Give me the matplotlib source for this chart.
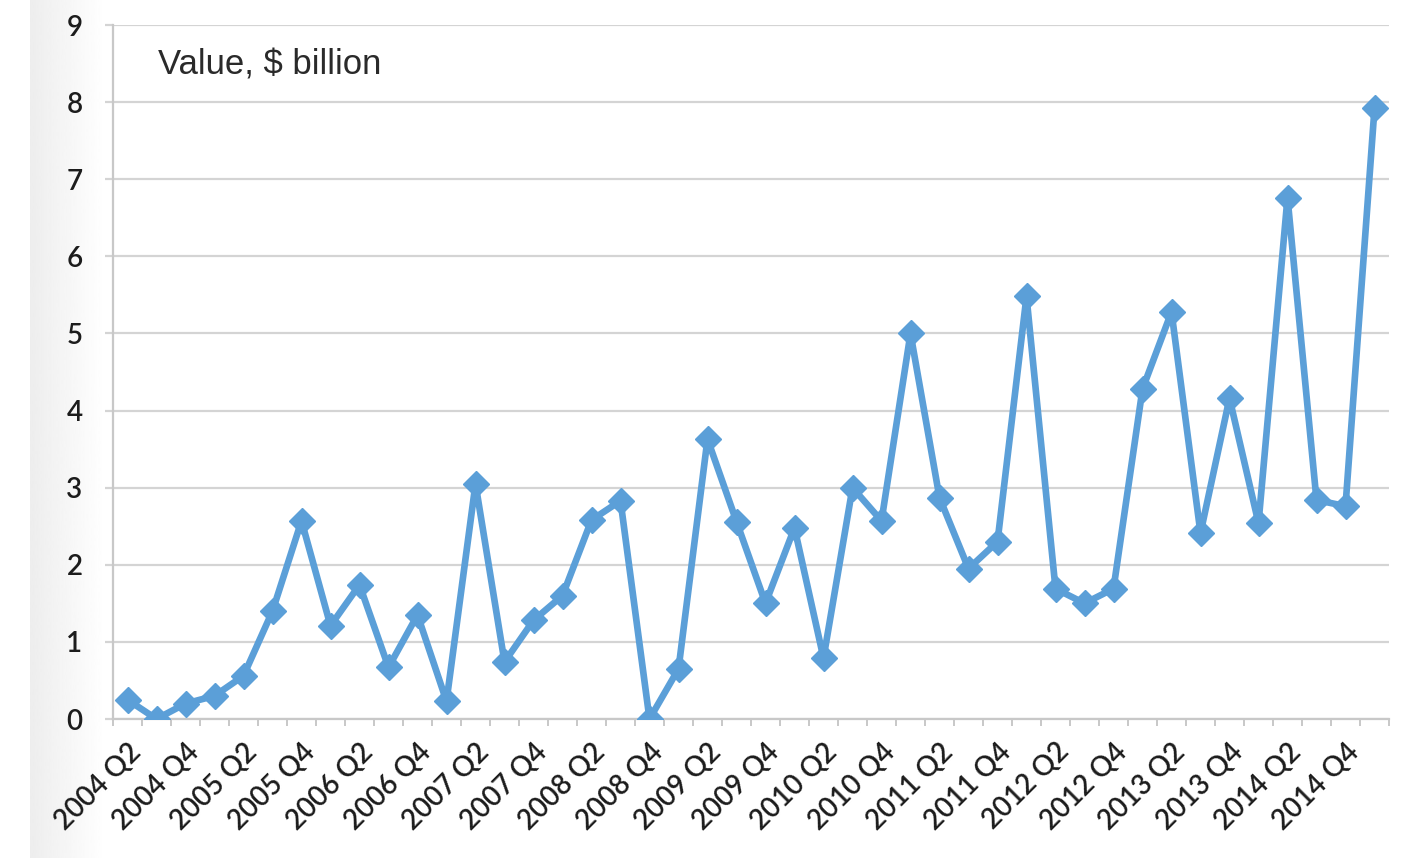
import numpy as np
import matplotlib.pyplot as plt
import matplotlib.transforms as mtransforms

# quarterly values, 2004 Q2 .. 2015 Q1
quarters = []
for yr in range(2004, 2016):
    for q in range(1, 5):
        quarters.append(f"{yr} Q{q}")
quarters = quarters[1:45]

values = [0.25, 0.0, 0.2, 0.3, 0.56, 1.4, 2.57, 1.21, 1.74, 0.67,
          1.35, 0.23, 3.05, 0.74, 1.28, 1.6, 2.58, 2.83, 0.0, 0.65,
          3.63, 2.56, 1.5, 2.48, 0.79, 3.0, 2.57, 5.0, 2.87, 1.95,
          2.3, 5.48, 1.69, 1.5, 1.69, 4.28, 5.28, 2.41, 4.16, 2.54,
          6.76, 2.84, 2.76, 7.92]

blue = '#5b9fd8'
grid = '#d4d4d4'
txt = '#1c1c1c'

fig = plt.figure(figsize=(14.02, 8.58), dpi=100)

# faint grey shading at the left edge of the screenshot
bg = fig.add_axes([30 / 1402, 0, 75 / 1402, 1])
bg.imshow(np.linspace(0.93, 1.0, 100).reshape(1, -1), cmap='gray', vmin=0, vmax=1,
          aspect='auto', extent=[0, 1, 0, 1])
bg.axis('off')

ax = fig.add_axes([113 / 1402, 1 - 719 / 858, (1389 - 113) / 1402, (719 - 25) / 858])
x = np.arange(len(values))
ax.plot(x, values, color=blue, lw=4.8, marker='D', ms=13, zorder=3)

ax.set_xlim(-0.5, len(values) - 0.5)
ax.set_ylim(0, 9)
ax.set_yticks(range(10))
ax.yaxis.grid(True, color=grid, lw=1.6)
ax.set_axisbelow(True)

ax.set_xticks(x[::2])
ax.set_xticklabels(quarters[::2], rotation=45, ha='right', rotation_mode='anchor',
                   fontsize=20, family='Lato', fontweight='semibold', color=txt)
shift = mtransforms.ScaledTranslation(2 / 72, 0, fig.dpi_scale_trans)
for lab in ax.get_xticklabels():
    lab.set_transform(lab.get_transform() + shift)
ax.tick_params(axis='x', which='major', length=0, pad=14)
ax.set_xticks(np.arange(-0.5, len(values)), minor=True)
ax.tick_params(axis='x', which='minor', length=5, width=1.4, color='#c8c8c8')
ax.tick_params(axis='y', length=6, width=1.6, color=grid, pad=16)
for lab in ax.get_yticklabels():
    lab.set_fontsize(20)
    lab.set_family('Lato')
    lab.set_fontweight('semibold')
    lab.set_color(txt)

for s in ['top', 'right']:
    ax.spines[s].set_visible(False)
ax.spines['left'].set_color('#c8c8c8')
ax.spines['left'].set_linewidth(1.6)
ax.spines['bottom'].set_color('#c8c8c8')
ax.spines['bottom'].set_linewidth(1.6)

ax.text(45 / 1276, 1 - 40 / 694, 'Value, $ billion', transform=ax.transAxes, fontsize=25,
        family='Liberation Sans', color='#2a2a2a', va='center', ha='left')

fig.savefig('out.png', dpi=100)
